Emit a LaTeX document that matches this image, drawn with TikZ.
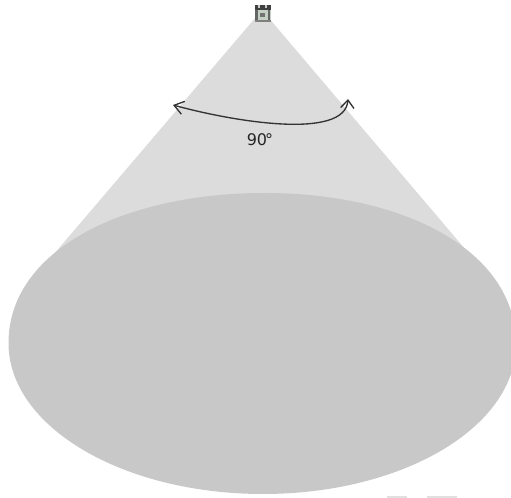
\documentclass[tikz,border=0pt]{standalone}
\usepackage{fontspec}
\setmainfont{DejaVu Sans}
\usetikzlibrary{arrows.meta}
\definecolor{conegray}{HTML}{DCDCDC}
\definecolor{discgray}{HTML}{C8C8C8}
\definecolor{icongreen}{HTML}{C4D0C4}
\begin{document}
\begin{tikzpicture}[x=0.75pt,y=-0.75pt,every node/.style={font=\fontsize{12pt}{14pt}\selectfont,text=black!85}]
\useasboundingbox (0,0) rectangle (511,498);
\coordinate (apex) at (262,10); \coordinate (tanl) at (54,254); \coordinate (tanr) at (471,256);
\fill[conegray] (apex) -- (tanl) -- (tanr) -- cycle;
\fill[discgray] (8.5,343) .. controls (8.5,250) and (124,193) .. (265,193) .. controls (403,193) and (516,250) .. (516,344) .. controls (516,427) and (403,494) .. (263,494) .. controls (123,494) and (8.5,427) .. (8.5,343) -- cycle;
\fill[icongreen] (254.5,5.5) rectangle (270.5,22.5); \fill[black!75] (254.5,5.5) rectangle (270.5,10); \fill[black!20] (258,5.5) rectangle (259.5,8); \fill[black!20] (265,5.5) rectangle (266.5,8);
\fill[black!60] (255,10) rectangle (257.5,20); \fill[black!55] (259.5,13) rectangle (265,17); \fill[black!60] (267.5,10) rectangle (270,20); \fill[black!50] (254.5,20) rectangle (270.5,22.5);
\coordinate (arcl) at (173,105); \coordinate (arcr) at (348,99);
\draw[{Straight Barb[length=7pt,width=10pt]}-{Straight Barb[length=6pt,width=10pt]},black!80,line width=1pt] (arcl) .. controls (235,122) and (345,140) .. (arcr);
\node (angle) at (260,140) {90\kern-1.5pt°};
\fill[black!12] (387,496) rectangle (407,498); \fill[black!12] (427,496) rectangle (457,498);
\end{tikzpicture}
\end{document}
